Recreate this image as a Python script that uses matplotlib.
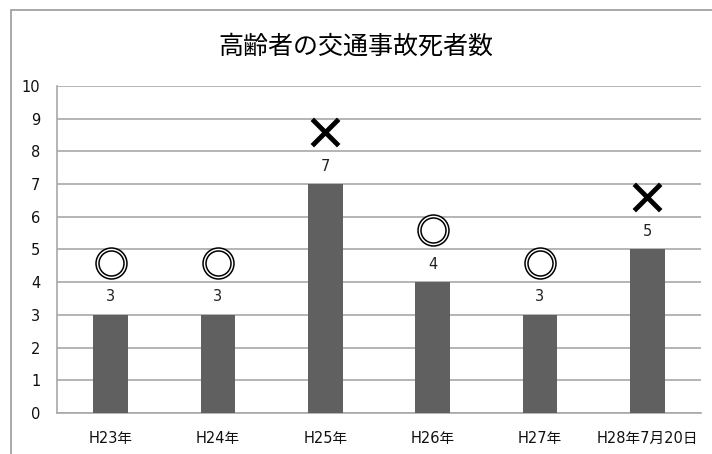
import matplotlib
matplotlib.use("Agg")
import matplotlib.pyplot as plt
from matplotlib.patches import Rectangle

plt.rcParams['font.family'] = ['DejaVu Sans', 'Noto Sans CJK JP']

title = "高齢者の交通事故死者数"
categories = ["H23年", "H24年", "H25年", "H26年", "H27年", "H28年7月20日"]
values = [3, 3, 7, 4, 3, 5]
marks = ["◎", "◎", "×", "◎", "◎", "×"]
yticks = list(range(0, 11))

fig = plt.figure(figsize=(7.12, 4.54), dpi=100)
fig.patch.set_facecolor("white")

# outer chart border (cropped at right and bottom)
fig.patches.append(Rectangle((11/712, -0.1), 1.2, 1 - 10/454 + 0.1,
                             transform=fig.transFigure, fill=False,
                             edgecolor="#9a9a9a", linewidth=1.2))

ax = fig.add_axes([57/712, 1 - 413/454, (701 - 57)/712, (413 - 86)/454])
x = list(range(len(categories)))
ax.bar(x, values, width=0.32, color="#606060", zorder=3)

for xi, v, m in zip(x, values, marks):
    ax.text(xi, v + 0.55, str(v), ha="center", va="center", fontsize=10.5, color="#222222")
    ym = v + 1.6
    if m == "◎":
        ax.scatter([xi], [ym], s=22.3**2, facecolor="white", edgecolor="black",
                   linewidth=1.1, zorder=4)
        ax.scatter([xi], [ym], s=18.0**2, facecolor="white", edgecolor="black",
                   linewidth=1.1, zorder=5)
    else:
        ax.scatter([xi], [ym], s=19**2, marker="x", color="black",
                   linewidth=3.5, zorder=4)

ax.set_xlim(-0.5, len(categories) - 0.5)
ax.set_ylim(0, 10)
ax.set_yticks(yticks)
ax.set_yticklabels([str(t) for t in yticks], fontsize=10.5)
for lbl in ax.get_yticklabels():
    lbl.set_verticalalignment("center_baseline")
ax.set_xticks(x)
ax.set_xticklabels(categories, fontsize=10.5)
ax.tick_params(axis="both", length=0, colors="#111111")
ax.tick_params(axis="y", pad=12)
ax.tick_params(axis="x", pad=13)
ax.grid(axis="y", color="#a8a8a8", linewidth=1.2, zorder=0)
ax.set_axisbelow(True)
for s in ["top", "right"]:
    ax.spines[s].set_visible(False)
ax.spines["left"].set_color("#a8a8a8")
ax.spines["bottom"].set_color("#a8a8a8")
ax.spines["left"].set_linewidth(1.2)
ax.spines["bottom"].set_linewidth(1.2)

fig.text(356/712, 1 - 47/454, title, ha="center", va="center", fontsize=18,
         family=["Noto Sans CJK JP"])

fig.savefig("out.png", dpi=100)
